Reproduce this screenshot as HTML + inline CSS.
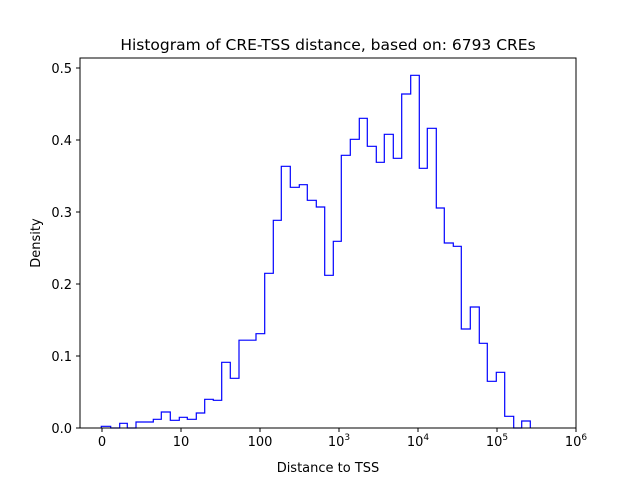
<!DOCTYPE html>
<html><head><meta charset="utf-8"><style>
html,body{margin:0;padding:0;background:#fff;}
svg{display:block;font-family:"DejaVu Sans","Liberation Sans",sans-serif;}
</style></head><body>
<svg width="640" height="480" viewBox="0 0 640 480" xmlns="http://www.w3.org/2000/svg">
<rect width="640" height="480" fill="#fff"/>
<path d="M101.3,428 V426.3 H110.7 V428 H119.7 V423.3 H127.3 V428 H136 V422 H153.3 V419.3 H161.3 V412 H170.3 V420.3 H179.3 V417.3 H187.3 V419.3 H196.3 V413 H204.7 V399.3 H213.3 V400.3 H221.7 V362.3 H230.3 V378.3 H239 V340.2 H256 V333.7 H264.7 V273.3 H273.3 V220.3 H281.3 V166.3 H290.3 V187.3 H299.3 V184.7 H307.3 V200.3 H316.3 V207 H324.7 V275.3 H333.3 V241.3 H341.3 V155.3 H350.3 V139.3 H359.3 V118.3 H367.3 V146.3 H376.3 V162.3 H384.3 V134.3 H393.3 V158.3 H401.7 V94 H410.7 V75.3 H419.3 V168.3 H427.3 V128.3 H436.3 V208 H444.3 V243 H453.3 V246.3 H461.3 V329 H470.3 V307 H479.3 V343.3 H487.3 V381.3 H496.3 V372.3 H504.7 V416.3 H513.7 V428 H521.7 V421 H530.3 V428" fill="none" stroke="#0000ff" stroke-width="1.2"/>
<rect x="80" y="58" width="496" height="370" fill="none" stroke="#000" stroke-width="1"/>
<g stroke="#000" stroke-width="1">
<line x1="102" y1="428" x2="102" y2="432"/><line x1="181" y1="428" x2="181" y2="432"/><line x1="260" y1="428" x2="260" y2="432"/><line x1="339" y1="428" x2="339" y2="432"/><line x1="418" y1="428" x2="418" y2="432"/><line x1="497" y1="428" x2="497" y2="432"/><line x1="576" y1="428" x2="576" y2="432"/>
<line x1="76" y1="428" x2="80" y2="428"/><line x1="76" y1="356" x2="80" y2="356"/><line x1="76" y1="284" x2="80" y2="284"/><line x1="76" y1="212" x2="80" y2="212"/><line x1="76" y1="140" x2="80" y2="140"/><line x1="76" y1="68" x2="80" y2="68"/>
</g>
<g font-size="13" text-anchor="middle" fill="#000">
<text x="102" y="446">0</text><text x="181" y="446">10</text><text x="260" y="446">100</text>
<text x="339" y="446">10<tspan font-size="9" dy="-6">3</tspan></text>
<text x="418" y="446">10<tspan font-size="9" dy="-6">4</tspan></text>
<text x="497" y="446">10<tspan font-size="9" dy="-6">5</tspan></text>
<text x="576" y="446">10<tspan font-size="9" dy="-6">6</tspan></text>
</g>
<g font-size="13" text-anchor="end" fill="#000">
<text x="72" y="433">0.0</text><text x="72" y="361">0.1</text><text x="72" y="289">0.2</text><text x="72" y="217">0.3</text><text x="72" y="145">0.4</text><text x="72" y="73">0.5</text>
</g>
<text x="328" y="472" font-size="13" text-anchor="middle">Distance to TSS</text>
<text x="40" y="243" font-size="13" text-anchor="middle" transform="rotate(-90 40 243)">Density</text>
<text x="328" y="50" font-size="15.5" text-anchor="middle">Histogram of CRE-TSS distance, based on: 6793 CREs</text>
</svg>
</body></html>
